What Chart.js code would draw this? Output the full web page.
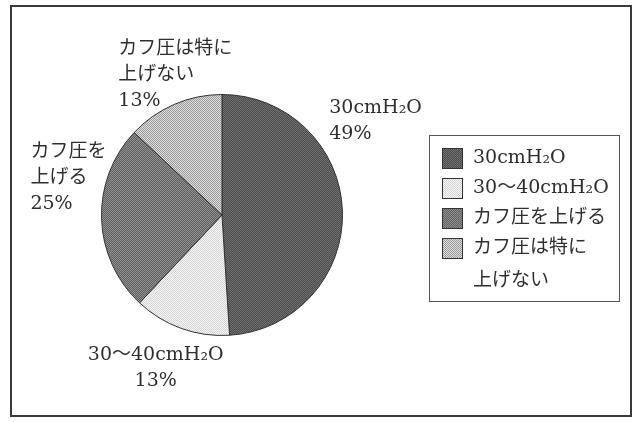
<!DOCTYPE html>
<html>
<head>
<meta charset="utf-8">
<script src="https://cdn.jsdelivr.net/npm/chart.js"></script>
<style>
  html, body { margin: 0; padding: 0; background: #fff; }
  #wrap { width: 641px; height: 422px; position: relative; }
</style>
</head>
<body>
<div id="wrap"><canvas id="pieChart" width="641" height="422"></canvas></div>
<script>
// データ
var categories = ['30cmH₂O', '30〜40cmH₂O', 'カフ圧を上げる', 'カフ圧は特に\n上げない'];
var values = [49, 13, 25, 13];
var pieLabels = ['30cmH₂O', '30〜40cmH₂O', 'カフ圧を\n上げる', 'カフ圧は特に\n上げない'];

// 網掛けの色 (2色のチェッカー)
var shades = [
    ['#4c4c4c', '#707070'],
    ['#f6f6f6', '#d4d4d4'],
    ['#626262', '#8e8e8e'],
    ['#dadada', '#9e9e9e']
];

// ラベル位置 (半径単位のオフセット)
var labelOffsets = [
    { dx: 0.89, dy: -0.89, align: 'left' },
    { dx: -0.55, dy: 1.165, align: 'center' },
    { dx: -1.59, dy: -0.52, align: 'left' },
    { dx: -0.86, dy: -1.38, align: 'left' }
];

var FONT = "19px 'DejaVu Serif', 'Noto Sans CJK JP', serif";
var TEXT_COLOR = '#2e2e2e';

function makePattern(c1, c2) {
    var p = document.createElement('canvas');
    p.width = 2;
    p.height = 2;
    var g = p.getContext('2d');
    g.fillStyle = c1;
    g.fillRect(0, 0, 2, 2);
    g.fillStyle = c2;
    g.fillRect(0, 0, 1, 1);
    g.fillRect(1, 1, 1, 1);
    return g.createPattern(p, 'repeat');
}

var fills = [];
for (var i = 0; i < shades.length; i++) {
    fills.push(makePattern(shades[i][0], shades[i][1]));
}

// 外枠
var framePlugin = {
    id: 'frame',
    beforeDraw: function(chart) {
        var ctx = chart.ctx;
        ctx.save();
        ctx.fillStyle = '#fff';
        ctx.fillRect(0, 0, chart.width, chart.height);
        ctx.strokeStyle = '#3a3a3a';
        ctx.lineWidth = 2;
        ctx.strokeRect(11, 6, 620, 410);
        ctx.restore();
    }
};

// データラベル
var labelPlugin = {
    id: 'sliceLabels',
    afterDatasetsDraw: function(chart) {
        var ctx = chart.ctx;
        var meta = chart.getDatasetMeta(0);
        ctx.save();
        ctx.font = FONT;
        ctx.fillStyle = TEXT_COLOR;
        ctx.textBaseline = 'middle';
        for (var i = 0; i < meta.data.length; i++) {
            var arc = meta.data[i];
            var r = arc.outerRadius;
            var off = labelOffsets[i];
            var x = arc.x + off.dx * r;
            var y = arc.y + off.dy * r;
            var lines = pieLabels[i].split('\n');
            lines.push(chart.data.datasets[0].data[i] + '%');
            ctx.textAlign = off.align;
            for (var j = 0; j < lines.length; j++) {
                ctx.fillText(lines[j], x, y + j * 26);
            }
        }
        ctx.restore();
    }
};

// 凡例 (枠付き)
var legendPlugin = {
    id: 'boxLegend',
    afterDraw: function(chart) {
        var ctx = chart.ctx;
        var bx = 429, by = 135, bw = 190, bh = 166;
        ctx.save();
        ctx.strokeStyle = '#555';
        ctx.lineWidth = 1;
        ctx.strokeRect(bx + 0.5, by + 0.5, bw, bh);
        ctx.font = FONT;
        ctx.textAlign = 'left';
        ctx.textBaseline = 'middle';
        var y = by + 23;
        for (var i = 0; i < categories.length; i++) {
            ctx.fillStyle = fills[i];
            ctx.fillRect(bx + 13, y - 10, 21, 21);
            ctx.strokeStyle = '#333';
            ctx.strokeRect(bx + 13.5, y - 9.5, 20, 20);
            ctx.fillStyle = TEXT_COLOR;
            var lines = categories[i].split('\n');
            for (var j = 0; j < lines.length; j++) {
                ctx.fillText(lines[j], bx + 44, y + j * 33);
            }
            y += 30;
        }
        ctx.restore();
    }
};

new Chart(document.getElementById('pieChart'), {
    type: 'pie',
    data: {
        labels: categories,
        datasets: [{
            data: values,
            backgroundColor: fills,
            borderColor: '#333',
            borderWidth: 1
        }]
    },
    options: {
        responsive: false,
        animation: false,
        layout: {
            padding: { left: 101, right: 298, top: 94, bottom: 86 }
        },
        plugins: {
            legend: { display: false },
            tooltip: { enabled: false }
        }
    },
    plugins: [framePlugin, labelPlugin, legendPlugin]
});
</script>
</body>
</html>
